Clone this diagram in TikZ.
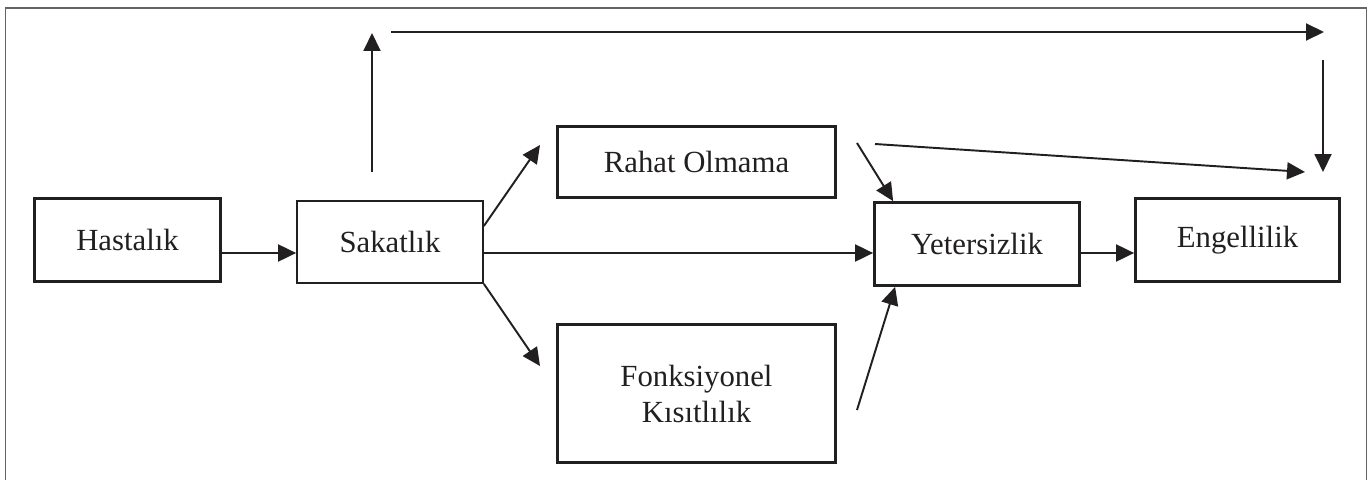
\documentclass[tikz,border=0pt]{standalone}
\usepackage{fontspec}
\setmainfont{Liberation Serif}
\usetikzlibrary{arrows.meta,positioning}

\definecolor{ink}{RGB}{34,31,32}
\definecolor{framegray}{RGB}{100,100,100}

\begin{document}
\begin{tikzpicture}[x=0.02cm, y=-0.02cm,
    box/.style={draw=ink, line width=1.6pt, inner sep=0pt, text=ink, align=center,
      font=\fontsize{17.5}{20.5}\selectfont},
    arr/.style={draw=ink, line width=1.1pt, -{Triangle[length=0.36cm, width=0.34cm]}}]
   \useasboundingbox (0,0) rectangle (1369,480);
   \draw[framegray, line width=0.8pt] (5.5,480) -- (5.5,8) -- (1366.5,8) -- (1366.5,480);

   \node[box, minimum width=3.72cm, minimum height=1.66cm] (hast) at (127.5,240) {Hastalık};
   \node[box, line width=1.3pt, minimum width=3.71cm, minimum height=1.63cm] (sakat) at (390,242) {Sakatlık};
   \node[box, minimum width=5.56cm, minimum height=1.42cm] (rahat) at (696.5,162) {Rahat Olmama};
   \node[box, minimum width=5.56cm, minimum height=2.76cm] (fonk) at (696.5,393.5) {Fonksiyonel\\Kısıtlılık};
   \node[box, minimum width=4.1cm, minimum height=1.66cm] (yeter) at (977,244) {Yetersizlik};
   \node[box, minimum width=4.08cm, minimum height=1.66cm] (engel) at (1237.5,240) {Engellilik};

   % free ends
   \coordinate (rIn) at (540,145);
   \coordinate (fIn) at (540,366);
   \coordinate (rOut) at (857,143);
   \coordinate (fOut) at (857,410);
   \coordinate (rOut2) at (875,144);
   \coordinate (eIn) at (1305,172);
   \coordinate (upBase) at (372,172);
   \coordinate (upTip) at (372,33);
   \coordinate (topL) at (391,32);
   \coordinate (topR) at (1324,32);
   \coordinate (downTop) at (1323,60);
   \coordinate (downTip) at (1323,172);

   \draw[arr] ([yshift=-0.26cm]hast.east) -- ([yshift=-0.22cm]sakat.west);
   \draw[arr] ([yshift=-0.22cm]sakat.east) -- ([yshift=-0.18cm]yeter.west);
   \draw[arr] ([yshift=-0.18cm]yeter.east) -- ([yshift=-0.26cm]engel.west);
   \draw[arr] ([yshift=0.32cm]sakat.east) -- (rIn);
   \draw[arr] (sakat.south east) -- (fIn);
   \draw[arr] (rOut) -- ([xshift=0.4cm]yeter.north west);
   \draw[arr] (fOut) -- ([xshift=0.44cm]yeter.south west);
   \draw[arr] (rOut2) -- (eIn);
   \draw[arr] (upBase) -- (upTip);
   \draw[arr] (topL) -- (topR);
   \draw[arr] (downTop) -- (downTip);
\end{tikzpicture}
\end{document}
